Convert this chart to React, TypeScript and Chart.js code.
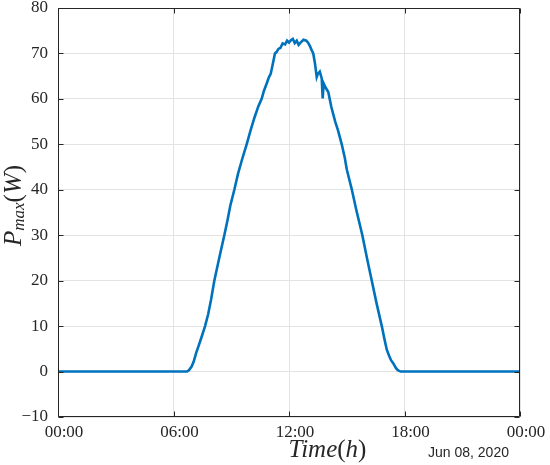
import { useEffect, useRef } from "react";
import { Chart, registerables } from "chart.js";

Chart.register(...registerables);

// Time of day (hours) and maximum power (W)
const hours = [
  0, 6.7, 6.8, 6.94, 7.05, 7.17, 7.3, 7.45, 7.64, 7.8, 7.95, 8.12, 8.3, 8.45, 8.64, 8.8, 8.95,
  9.16, 9.35, 9.55, 9.8, 10.0, 10.2, 10.4, 10.58, 10.7, 10.85, 10.96, 11.05, 11.15, 11.27, 11.35,
  11.45, 11.55, 11.67, 11.8, 11.9, 12.0, 12.1, 12.2, 12.3, 12.4, 12.5, 12.6, 12.75, 12.9, 13.0,
  13.1, 13.2, 13.26, 13.35, 13.44, 13.5, 13.6, 13.7, 13.75, 13.8, 13.9, 14.04, 14.2, 14.4, 14.55,
  14.74, 14.9, 15.0, 15.26, 15.5, 15.81, 16.05, 16.3, 16.55, 16.82, 16.95, 17.08, 17.2, 17.3,
  17.42, 17.55, 17.65, 17.8, 24,
];
const power = [
  0, 0, 0.3, 1.1, 2.2, 4.0, 5.6, 7.5, 10, 12.6, 15.8, 20, 23.5, 26.4, 30, 33.2, 36.5,
  40, 43.5, 46.5, 50, 53, 55.8, 58.3, 60, 61.8, 63.5, 64.8, 65.5, 67.5, 70, 70.3,
  71.0, 71.2, 72.2, 72.0, 72.8, 72.4, 72.9, 73.2, 72.3, 72.8, 71.9, 72.4, 73.0, 72.8, 72.3,
  71.5, 70.5, 70, 67.8, 64.8, 65.5, 66, 64.5, 60.1, 63.4, 62.5, 61.5, 58.2, 55, 53,
  50, 47, 44.5, 40.1, 35.5, 30, 25, 20, 15, 10, 7.3, 4.8, 3.5, 2.5,
  1.8, 0.8, 0.3, 0, 0,
];

const xTickHours = [0, 6, 12, 18, 24];
const xTickLabels = ["00:00", "06:00", "12:00", "18:00", "00:00"];
const yMin = -10;
const yMax = 80;
const yStep = 10;
const dateLabel = "Jun 08, 2020";

const AXIS = "#262626";
const GRID = "#e3e3e3";
const LINE = "#0072BD";

type Piece = { t: string; font: string; dy?: number };

function drawPieces(ctx: CanvasRenderingContext2D, pieces: Piece[], x: number, y: number) {
  let cx = x;
  for (const p of pieces) {
    ctx.font = p.font;
    ctx.fillText(p.t, cx, y + (p.dy || 0));
    cx += ctx.measureText(p.t).width;
  }
}
function piecesWidth(ctx: CanvasRenderingContext2D, pieces: Piece[]) {
  let w = 0;
  for (const p of pieces) {
    ctx.font = p.font;
    w += ctx.measureText(p.t).width;
  }
  return w;
}

export default function App() {
  const ref = useRef<HTMLCanvasElement>(null);

  useEffect(() => {
    document.body.style.margin = "0";
    const canvas = ref.current;
    if (!canvas) return;

    const boxPlugin = {
      id: "matlabBox",
      afterDraw(chart: any) {
        const { ctx, chartArea: a, scales } = chart;
        ctx.save();
        ctx.strokeStyle = AXIS;
        ctx.lineWidth = 1;
        const L = Math.round(a.left) + 0.5;
        const R = Math.round(a.right) - 0.5;
        const T = Math.round(a.top) + 0.5;
        const B = Math.round(a.bottom) - 0.5;
        ctx.beginPath();
        ctx.rect(L, T, R - L, B - T);
        ctx.stroke();
        const tl = 5;
        ctx.beginPath();
        for (const v of xTickHours) {
          const px = Math.round(scales.x.getPixelForValue(v)) + 0.5;
          ctx.moveTo(px, B);
          ctx.lineTo(px, B - tl);
          ctx.moveTo(px, T);
          ctx.lineTo(px, T + tl);
        }
        for (let v = yMin; v <= yMax; v += yStep) {
          const py = Math.round(scales.y.getPixelForValue(v)) + 0.5;
          ctx.moveTo(L, py);
          ctx.lineTo(L + tl, py);
          ctx.moveTo(R, py);
          ctx.lineTo(R - tl, py);
        }
        ctx.stroke();

        ctx.fillStyle = AXIS;
        ctx.textBaseline = "alphabetic";
        ctx.textAlign = "left";
        const it = "italic 25px 'Liberation Serif'";
        const up = "25px 'Liberation Serif'";
        const sub = "italic 17px 'Liberation Serif'";

        // x-axis title
        const xt: Piece[] = [
          { t: "Time", font: it },
          { t: "(", font: up },
          { t: "h", font: it },
          { t: ")", font: up },
        ];
        const xw = piecesWidth(ctx, xt);
        drawPieces(ctx, xt, a.left + 269.5 - xw / 2, a.bottom + 40);

        // y-axis title
        const yt: Piece[] = [
          { t: "P", font: it },
          { t: "max", font: sub, dy: 3.5 },
          { t: "(", font: up },
          { t: "W", font: it },
          { t: ")", font: up },
        ];
        const yw = piecesWidth(ctx, yt);
        const cy = (a.top + a.bottom) / 2 - 7;
        ctx.save();
        ctx.translate(20.5, cy + yw / 2);
        ctx.rotate(-Math.PI / 2);
        drawPieces(ctx, yt, 0, 0);
        ctx.restore();

        // date label
        ctx.font = "14px 'Liberation Sans'";
        ctx.fillText(dateLabel, a.left + 370, a.bottom + 40);
        ctx.restore();
      },
    };

    const chart = new Chart(canvas, {
      type: "line",
      data: {
        datasets: [
          {
            data: hours.map((h, i) => ({ x: h, y: power[i] })),
            borderColor: LINE,
            borderWidth: 2.6,
            pointRadius: 0,
            tension: 0,
            fill: false,
          },
        ],
      },
      options: {
        responsive: false,
        animation: false,
        layout: { padding: { left: 0, top: 8, right: 30, bottom: 0 } },
        plugins: { legend: { display: false }, tooltip: { enabled: false } },
        scales: {
          x: {
            type: "linear",
            min: 0,
            max: 24,
            afterFit(scale: any) {
              scale.height = 48;
              scale.paddingLeft = 0;
              scale.paddingRight = 0;
            },
            afterBuildTicks(scale: any) {
              scale.ticks = xTickHours.map((v) => ({ value: v }));
            },
            ticks: {
              autoSkip: false,
              maxRotation: 0,
              padding: 5,
              labelOffset: 6,
              color: AXIS,
              font: { family: "'Liberation Serif'", size: 17 },
              callback: (v: any) => {
                const i = xTickHours.indexOf(Number(v));
                return i >= 0 ? xTickLabels[i] : "";
              },
            },
            grid: { color: GRID, drawTicks: false },
            border: { display: false },
          },
          y: {
            type: "linear",
            min: yMin,
            max: yMax,
            afterFit(scale: any) {
              scale.width = 58;
              scale.paddingTop = 0;
              scale.paddingBottom = 0;
            },
            ticks: {
              stepSize: yStep,
              padding: 10,
              color: AXIS,
              font: { family: "'Liberation Serif'", size: 17 },
              callback: (v: any) => (Number(v) < 0 ? "\u2212" + Math.abs(Number(v)) : String(v)),
            },
            grid: { color: GRID, drawTicks: false },
            border: { display: false },
          },
        },
      },
      plugins: [boxPlugin],
    });
    return () => chart.destroy();
  }, []);

  return (
    <div style={{ width: 550, height: 465 }}>
      <canvas ref={ref} width={550} height={465} style={{ display: "block" }} />
    </div>
  );
}
